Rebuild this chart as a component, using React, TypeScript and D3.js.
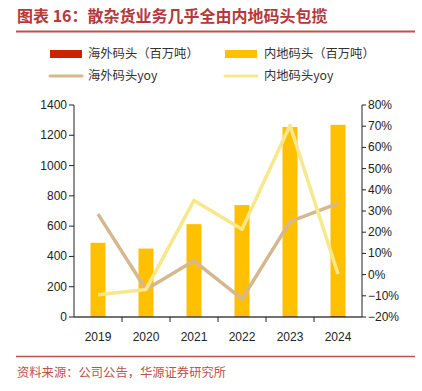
import React from "react";
import * as d3 from "d3";

const years = ["2019", "2020", "2021", "2022", "2023", "2024"];
const overseasVol = [3, 2, 3, 4, 5, 9];
const inlandVol = [487, 450, 610, 735, 1250, 1260];
const overseasYoy = [28.5, -7, 6.5, -11.5, 25, 33.6];
const inlandYoy = [-9.5, -7, 35, 21.4, 70.4, 0.3];
const leftTicks = [0, 200, 400, 600, 800, 1000, 1200, 1400];
const rightTicks = [-20, -10, 0, 10, 20, 30, 40, 50, 60, 70, 80];

const W = 422;
const H = 391;
const red = "#c0504d";
const font = "'Liberation Sans', Arial, sans-serif";
const cjk = "'Noto Sans CJK SC', sans-serif";

export default function App() {
  const left = 74;
  const right = 362;
  const top = 105;
  const bottom = 317;

  const x = d3.scaleBand().domain(years).range([left, right]);
  const yL = d3.scaleLinear().domain([0, 1400]).range([bottom, top]);
  const yR = d3.scaleLinear().domain([-20, 80]).range([bottom, top]);
  const barW = 15;

  const line = d3
    .line<number>()
    .x((_, i) => x(years[i])! + x.bandwidth() / 2)
    .y((d) => yR(d));

  return (
    <svg width={W} height={H} style={{ position: "absolute", left: 0, top: 0 }}>
      <rect width={W} height={H} fill="#fff" />
      {/* 标题 */}
      <text x={17} y={22} fontFamily={cjk} fontWeight="bold" fontSize={16} fill="#b5383a">
        图表 16：散杂货业务几乎全由内地码头包揽
      </text>
      <line x1={16} x2={415} y1={31.5} y2={31.5} stroke={red} strokeWidth={2} />

      {/* 图例 */}
      <g fontFamily={cjk} fontSize={12.3} fill="#333">
        <rect x={50} y={50} width={32} height={8} fill="#cc2200" />
        <text x={88} y={58}>海外码头（百万吨）</text>
        <rect x={225} y={50} width={32} height={8} fill="#ffc000" />
        <text x={264} y={58}>内地码头（百万吨）</text>
        <line x1={50} x2={82} y1={76} y2={76} stroke="#d6b88e" strokeWidth={3} strokeLinecap="round" />
        <text x={88} y={80}>海外码头yoy</text>
        <line x1={225} x2={257} y1={76} y2={76} stroke="#f7e88c" strokeWidth={3} strokeLinecap="round" />
        <text x={264} y={80}>内地码头yoy</text>
      </g>

      {/* 柱 */}
      {years.map((yr, i) => {
        const bx = x(yr)! + (x.bandwidth() - barW) / 2;
        return (
          <g key={yr}>
            <rect x={bx} y={yL(overseasVol[i])} width={barW} height={bottom - yL(overseasVol[i])} fill="#cc2200" />
            <rect
              x={bx}
              y={yL(overseasVol[i] + inlandVol[i])}
              width={barW}
              height={yL(overseasVol[i]) - yL(overseasVol[i] + inlandVol[i])}
              fill="#ffc000"
            />
          </g>
        );
      })}

      {/* 折线 */}
      <path d={line(overseasYoy)!} fill="none" stroke="#d6b88e" strokeWidth={3.5} strokeLinejoin="round" />
      <path d={line(inlandYoy)!} fill="none" stroke="#f7e88c" strokeWidth={3.5} strokeLinejoin="round" />

      {/* 坐标轴 */}
      <g fontFamily={font} fontSize={12} fill="#222">
        <line x1={left} x2={left} y1={top} y2={bottom} stroke="#222" />
        {leftTicks.map((t) => (
          <g key={t}>
            <line x1={left - 5} x2={left} y1={yL(t)} y2={yL(t)} stroke="#222" />
            <text x={left - 7} y={yL(t) + 4} textAnchor="end">{t}</text>
          </g>
        ))}
        <line x1={right} x2={right} y1={top} y2={bottom} stroke="#222" />
        {rightTicks.map((t) => (
          <g key={t}>
            <line x1={right} x2={right + 4} y1={yR(t)} y2={yR(t)} stroke="#222" />
            <text x={right + 6} y={yR(t) + 4}>{t < 0 ? "\u2212" + Math.abs(t) : t}%</text>
          </g>
        ))}
        <line x1={left} x2={right} y1={bottom} y2={bottom} stroke="#444" strokeWidth={1.5} />
        {years.map((yr, i) => (
          <g key={yr}>
            {i > 0 && <line x1={x(yr)!} x2={x(yr)!} y1={bottom} y2={bottom + 5} stroke="#222" />}
            <text x={x(yr)! + x.bandwidth() / 2} y={341} textAnchor="middle">{yr}</text>
          </g>
        ))}
      </g>

      {/* 来源 */}
      <line x1={16} x2={415} y1={356.5} y2={356.5} stroke={red} strokeWidth={1.5} />
      <text x={17} y={377} fontFamily={cjk} fontSize={12.3} fill="#c0504d">
        资料来源：公司公告，华源证券研究所
      </text>
    </svg>
  );
}
